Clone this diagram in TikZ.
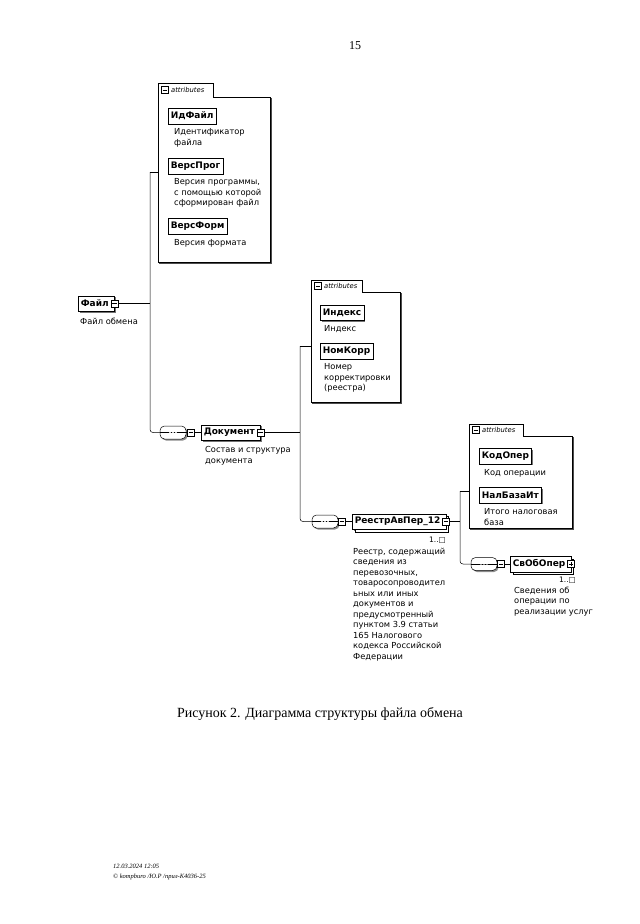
\documentclass[tikz,border=0pt]{standalone}
\usepackage{fontspec}
\setmainfont{Liberation Serif}
\newfontfamily\xsdfont{DejaVu Sans}
\usetikzlibrary{shadows}

\tikzset{
  elem/.style={draw, fill=white, line width=0.5pt, font=\xsdfont\bfseries\fontsize{9}{10}\selectfont,
    inner xsep=2.5pt, inner ysep=0pt, minimum height=15.5pt,
    general shadow={fill=black!55, shadow xshift=1.5pt, shadow yshift=-1.5pt}},
  elemt/.style={elem, execute at end node={\hspace{3pt}}},
  elemmult/.style={elemt, copy shadow={shadow xshift=2.5pt, shadow yshift=-2.5pt}},
  tog/.style={draw, fill=white, line width=0.4pt, inner sep=0pt, minimum size=7pt,
    path picture={\draw[line width=0.4pt] ([xshift=1.3pt]path picture bounding box.west) -- ([xshift=-1.3pt]path picture bounding box.east);}},
  togplus/.style={tog,
    path picture={\draw[line width=0.4pt] ([xshift=1.3pt]path picture bounding box.west) -- ([xshift=-1.3pt]path picture bounding box.east)
      ([yshift=1.3pt]path picture bounding box.south) -- ([yshift=-1.3pt]path picture bounding box.north);}},
  seqc/.style={draw, fill=white, line width=0.5pt, rounded corners=4.5pt, minimum width=26pt, minimum height=13pt, inner sep=0pt,
    general shadow={fill=black!45, shadow xshift=1.5pt, shadow yshift=-1.5pt},
    path picture={\draw[line width=0.5pt] (path picture bounding box.west) -- (path picture bounding box.east);
      \fill (path picture bounding box.center) circle (0.9pt)
        ([xshift=-3pt]path picture bounding box.center) circle (0.9pt)
        ([xshift=3pt]path picture bounding box.center) circle (0.9pt);}},
  descr/.style={anchor=north west, inner sep=0pt, align=left, font=\xsdfont\fontsize{8.3}{10.5}\selectfont},
  mult/.style={anchor=base east, inner sep=0pt, font=\xsdfont\fontsize{7.5}{9}\selectfont},
  tabtxt/.style={anchor=west, inner sep=0pt, xshift=2.5pt, font=\xsdfont\itshape\fontsize{6.8}{8}\selectfont},
  grp/.style={line width=0.5pt},
  grpshade/.style={line width=0.9pt, black!70},
  conn/.style={line width=0.5pt},
}

\begin{document}
\begin{tikzpicture}[x=1pt,y=-1pt,line join=miter]
        \useasboundingbox (0,0) rectangle (640,924);
        \node[anchor=base, font=\fontsize{12}{14}\selectfont] (pagenum) at (355,49) {15};

        % attributes of Файл
        \draw[grp] (158,83) -- (213,83) -- (213,97) -- (270,97) -- (270,262) -- (158,262) -- cycle;
        \draw[grpshade] (271,98) -- (271,263) -- (159,263);
        \node[tog, anchor=west] (ta1) at (161,90) {};
        \node[tabtxt] (la1) at (ta1.east) {attributes};
        \node[elem, anchor=west] (idfajl) at (168,116) {ИдФайл};
        \node[descr] (didfajl) at (174,128.5) {Идентификатор\\файла};
        \node[elem, anchor=west] (versprog) at (168,166) {ВерсПрог};
        \node[descr] (dversprog) at (174,178.5) {Версия программы,\\с помощью которой\\сформирован файл};
        \node[elem, anchor=west] (versform) at (168,226) {ВерсФорм};
        \node[descr] (dversform) at (174,239.5) {Версия формата};
        \coordinate (g1) at (158,172);

        % Файл
        \node[elemt, anchor=west] (fajl) at (78,303.5) {Файл};
        \node[tog] (tfajl) at (fajl.east) {};
        \node[descr] (dfajl) at (80,317.5) {Файл обмена};
        \coordinate (sp1) at (150,172);
        \draw[conn] (g1) -- (sp1);
        \draw[conn] (tfajl.east) -- (tfajl.east -| sp1);

        % Документ
        \node[seqc] (sq1) at (173,432.5) {};
        \node[tog] (st1) at (191,432.5) {};
        \node[elemt, anchor=west] (dok) at (201,432.5) {Документ};
        \node[tog] (tdok) at (dok.east) {};
        \node[descr] (ddok) at (205,446.5) {Состав и структура\\документа};
        \draw[conn, rounded corners=3pt] (sp1) -- (sp1 |- sq1) -- (sq1.west);
        \draw[conn] (sq1.east) -- (st1.west);
        \draw[conn] (st1.east) -- (dok.west);

        % attributes of Документ
        \draw[grp] (311,280) -- (362,280) -- (362,292) -- (400,292) -- (400,402) -- (311,402) -- cycle;
        \draw[grpshade] (401,293) -- (401,403) -- (312,403);
        \node[tog, anchor=west] (ta2) at (314,286) {};
        \node[tabtxt] (la2) at (ta2.east) {attributes};
        \node[elem, anchor=west] (indeks) at (320,312.5) {Индекс};
        \node[descr] (dindeks) at (324,325.5) {Индекс};
        \node[elem, anchor=west] (nomkorr) at (320,351) {НомКорр};
        \node[descr] (dnomkorr) at (324,363.5) {Номер\\корректировки\\(реестра)};
        \coordinate (g2) at (311,346);
        \coordinate (sp2) at (300,346);
        \draw[conn] (g2) -- (sp2);
        \draw[conn] (tdok.east) -- (tdok.east -| sp2);

        % РеестрАвПер_12
        \node[seqc] (sq2) at (325,521.5) {};
        \node[tog] (st2) at (342,521.5) {};
        \node[elemmult, anchor=west] (reestr) at (352,521.5) {РеестрАвПер\_12};
        \node[tog] (treestr) at (reestr.east) {};
        \node[mult] (mreestr) at (446,542) {1..□};
        \node[descr] (dreestr) at (353,547.5) {Реестр, содержащий\\сведения из\\перевозочных,\\товаросопроводител\\ьных или иных\\документов и\\предусмотренный\\пунктом 3.9 статьи\\165 Налогового\\кодекса Российской\\Федерации};
        \draw[conn, rounded corners=3pt] (sp2) -- (sp2 |- sq2) -- (sq2.west);
        \draw[conn] (sq2.east) -- (st2.west);
        \draw[conn] (st2.east) -- (reestr.west);

        % attributes of РеестрАвПер_12
        \draw[grp] (469,424) -- (523,424) -- (523,436) -- (572,436) -- (572,528) -- (469,528) -- cycle;
        \draw[grpshade] (573,437) -- (573,529) -- (470,529);
        \node[tog, anchor=west] (ta3) at (472,430) {};
        \node[tabtxt] (la3) at (ta3.east) {attributes};
        \node[elem, anchor=west] (kodoper) at (479,456) {КодОпер};
        \node[descr] (dkodoper) at (484,469.5) {Код операции};
        \node[elem, anchor=west] (nalbaza) at (479,495) {НалБазаИт};
        \node[descr] (dnalbaza) at (484,508.5) {Итого налоговая\\база};
        \coordinate (g3) at (469,491);
        \coordinate (sp3) at (460,491);
        \draw[conn] (g3) -- (sp3);
        \draw[conn] (treestr.east) -- (treestr.east -| sp3);

        % СвОбОпер
        \node[seqc] (sq3) at (484,564) {};
        \node[tog] (st3) at (501,564) {};
        \node[elemmult, anchor=west] (svoboper) at (510,564) {СвОбОпер};
        \node[togplus] (tsvoboper) at (svoboper.east) {};
        \node[mult] (msvoboper) at (576,582) {1..□};
        \node[descr] (dsvoboper) at (514,586.5) {Сведения об\\операции по\\реализации услуг};
        \draw[conn, rounded corners=3pt] (sp3) -- (sp3 |- sq3) -- (sq3.west);
        \draw[conn] (sq3.east) -- (st3.west);
        \draw[conn] (st3.east) -- (svoboper.west);

        % подпись
        \node[anchor=base, font=\fontsize{14}{16}\selectfont] (caption) at (320,717) {Рисунок 2. Диаграмма структуры файла обмена};
        \node[anchor=base west, inner sep=0pt, font=\itshape\fontsize{6.5}{8}\selectfont] (foot1) at (113,868) {12.03.2024 12:05};
        \node[anchor=base west, inner sep=0pt, font=\itshape\fontsize{6.5}{8}\selectfont] (foot2) at (113,878) {© kompburo /Ю.Р /прил-К4036-25};
    \end{tikzpicture}
\end{document}
